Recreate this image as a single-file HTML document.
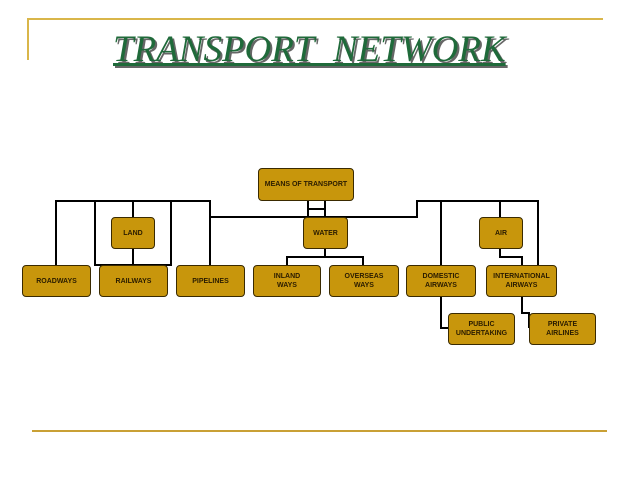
<!DOCTYPE html>
<html><head><style>
body{margin:0;background:#fff;width:638px;height:479px;overflow:hidden;position:relative;font-family:"Liberation Sans",sans-serif}
.b{position:absolute;background:#c8960c;border:1px solid #3a2a00;border-radius:4px;box-sizing:border-box;display:flex;align-items:center;justify-content:center;text-align:center;font-size:7px;font-weight:bold;color:#2a1c00;line-height:9px}
.t{position:absolute;left:113px;top:28px;font-family:"Liberation Serif",serif;font-style:italic;font-size:37px;color:#1f6a3a;text-decoration:underline;text-decoration-thickness:3px;text-shadow:2px 2px 0 #666;letter-spacing:0px;white-space:nowrap}
</style></head><body>
<div style="position:absolute;left:27px;top:18px;width:576px;height:2px;background:#d9b64a"></div>
<div style="position:absolute;left:27px;top:18px;width:2px;height:42px;background:#d9b64a"></div>
<div style="position:absolute;left:32px;top:430px;width:575px;height:2px;background:#c9a035"></div>
<div class="t">TRANSPORT&nbsp; NETWORK</div>
<svg width="638" height="479" style="position:absolute;left:0;top:0" fill="none" stroke="#000" stroke-width="2">
<path d="M56 266V201H210V217H417V201H538V266"/>
<path d="M95 266V201M133 201V217M171 266V201M210 217V266M95 265H171M133 249V265"/>
<path d="M308 200V217M325 200V217M308 209H325"/>
<path d="M325 249V257M287 265V257H363V265"/>
<path d="M441 201V266M500 201V217M500 249V257H522V265"/>
<path d="M441 297V328H448M522 297V313H529V328"/>
</svg>
<div class="b" style="left:258px;top:168px;width:96px;height:33px">MEANS OF TRANSPORT</div>
<div class="b" style="left:111px;top:217px;width:44px;height:32px">LAND</div>
<div class="b" style="left:303px;top:217px;width:45px;height:32px">WATER</div>
<div class="b" style="left:479px;top:217px;width:44px;height:32px">AIR</div>
<div class="b" style="left:22px;top:265px;width:69px;height:32px">ROADWAYS</div>
<div class="b" style="left:99px;top:265px;width:69px;height:32px">RAILWAYS</div>
<div class="b" style="left:176px;top:265px;width:69px;height:32px">PIPELINES</div>
<div class="b" style="left:253px;top:265px;width:68px;height:32px">INLAND<br>WAYS</div>
<div class="b" style="left:329px;top:265px;width:70px;height:32px">OVERSEAS<br>WAYS</div>
<div class="b" style="left:406px;top:265px;width:70px;height:32px">DOMESTIC<br>AIRWAYS</div>
<div class="b" style="left:486px;top:265px;width:71px;height:32px">INTERNATIONAL<br>AIRWAYS</div>
<div class="b" style="left:448px;top:313px;width:67px;height:32px">PUBLIC<br>UNDERTAKING</div>
<div class="b" style="left:529px;top:313px;width:67px;height:32px">PRIVATE<br>AIRLINES</div>
</body></html>
